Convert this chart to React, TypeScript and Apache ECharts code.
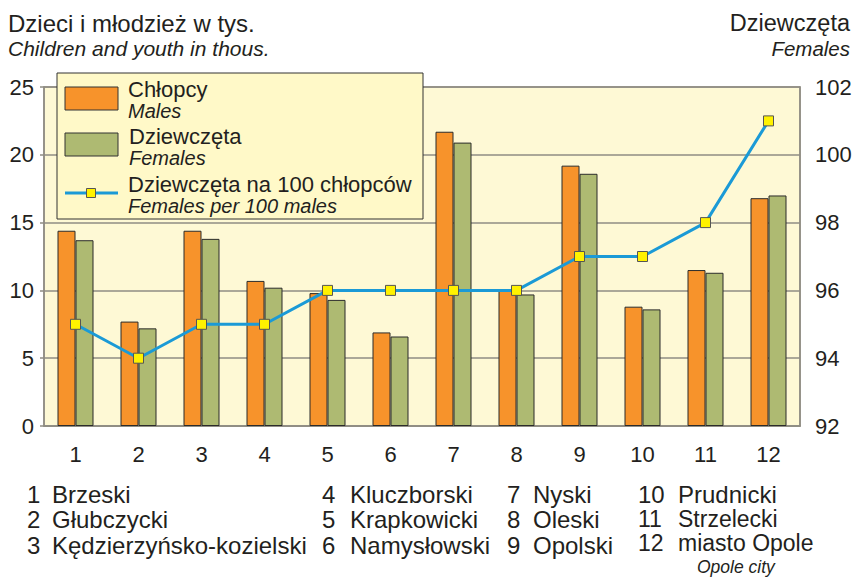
import React, { useEffect, useRef } from "react";
import * as echarts from "echarts";

const categories = ["1", "2", "3", "4", "5", "6", "7", "8", "9", "10", "11", "12"];
const males = [14.4, 7.7, 14.4, 10.7, 9.8, 6.9, 21.7, 10.0, 19.2, 8.8, 11.5, 16.8];
const females = [13.7, 7.2, 13.8, 10.2, 9.3, 6.6, 20.9, 9.7, 18.6, 8.6, 11.3, 17.0];
const femalesPer100Males = [95, 94, 95, 95, 96, 96, 96, 96, 97, 97, 98, 101];
const leftTicks = { min: 0, max: 25, interval: 5 };
const rightTicks = { min: 92, max: 102, interval: 2 };

const districtNumbers = [
  ["1", "2", "3"],
  ["4", "5", "6"],
  ["7", "8", "9"],
  ["10", "11", "12"],
];
const districtNames = [
  ["Brzeski", "Głubczycki", "Kędzierzyńsko-kozielski"],
  ["Kluczborski", "Krapkowicki", "Namysłowski"],
  ["Nyski", "Oleski", "Opolski"],
  ["Prudnicki", "Strzelecki", "miasto Opole"],
];

const FONT = "Liberation Sans, Arial, Helvetica, sans-serif";
const TXT = "#231f20";
const ORANGE = "#f7932b";
const GREEN = "#aeba72";
const BLUE = "#1b9ad6";
const YELLOW = "#fff200";

function txt(x: number, y: number, text: string, size: number, opts: any = {}) {
  return {
    type: "text",
    x,
    y,
    z: 100,
    style: {
      text,
      fontFamily: FONT,
      fontSize: size,
      fontStyle: opts.italic ? "italic" : "normal",
      fill: TXT,
      align: opts.align || "left",
      verticalAlign: "middle",
    },
  };
}

export default function App() {
  const ref = useRef<HTMLDivElement>(null);
  useEffect(() => {
    if (!ref.current) return;
    const chart = echarts.init(ref.current, undefined, { renderer: "svg" });

    const graphics: any[] = [
      txt(8, 23, "Dzieci i młodzież w tys.", 24),
      txt(8, 48, "Children and youth in thous.", 21, { italic: true }),
      txt(850, 23, "Dziewczęta", 23.5, { align: "right" }),
      txt(850, 48, "Females", 20.5, { italic: true, align: "right" }),
      // legend box
      {
        type: "rect",
        z: 90,
        shape: { x: 57, y: 73, width: 366, height: 146 },
        style: { fill: "#fff9c8", stroke: "#333", lineWidth: 1 },
      },
      {
        type: "rect",
        z: 95,
        shape: { x: 65, y: 87, width: 53, height: 23 },
        style: { fill: ORANGE, stroke: "#333", lineWidth: 1 },
      },
      {
        type: "rect",
        z: 95,
        shape: { x: 65, y: 133, width: 53, height: 23 },
        style: { fill: GREEN, stroke: "#333", lineWidth: 1 },
      },
      {
        type: "line",
        z: 95,
        shape: { x1: 65, y1: 193, x2: 118, y2: 193 },
        style: { stroke: BLUE, lineWidth: 3 },
      },
      {
        type: "rect",
        z: 96,
        shape: { x: 86.5, y: 188.5, width: 9, height: 9 },
        style: { fill: YELLOW, stroke: "#555", lineWidth: 1 },
      },
      txt(128, 89, "Chłopcy", 22),
      txt(128, 110.5, "Males", 20, { italic: true }),
      txt(129, 136, "Dziewczęta", 22),
      txt(129, 158, "Females", 20, { italic: true }),
      txt(128, 184, "Dziewczęta na 100 chłopców", 22),
      txt(128, 205.5, "Females per 100 males", 20, { italic: true }),
    ];

    const colX = [[27, 52], [322, 350], [507, 533], [638, 678]];
    const rowY = [[494, 519, 545], [494, 519, 545], [494, 519, 545], [494, 519, 542.5]];
    for (let c = 0; c < 4; c++) {
      for (let r = 0; r < 3; r++) {
        const size = c === 3 && r > 0 ? 23 : 24;
        graphics.push(txt(colX[c][0], rowY[c][r], districtNumbers[c][r], size));
        graphics.push(txt(colX[c][1], rowY[c][r], districtNames[c][r], size));
      }
    }
    graphics.push(txt(697, 567, "Opole city", 17.5, { italic: true }));

    chart.setOption({
      animation: false,
      backgroundColor: "#ffffff",
      grid: {
        left: 44,
        right: 58,
        top: 87,
        bottom: 152,
        show: true,
        backgroundColor: "#fef9d5",
        borderColor: "#8f8d83",
        borderWidth: 1.5,
      },
      xAxis: {
        type: "category",
        data: categories,
        axisLine: { show: true, lineStyle: { color: "#8f8d83", width: 1.5 } },
        axisTick: { show: false },
        axisLabel: { color: TXT, fontFamily: FONT, fontSize: 22, margin: 17 },
      },
      yAxis: [
        {
          type: "value",
          min: leftTicks.min,
          max: leftTicks.max,
          interval: leftTicks.interval,
          axisLine: { show: true, lineStyle: { color: "#8f8d83", width: 1.5 } },
          axisTick: { show: true, length: 4, lineStyle: { color: "#8f8d83", width: 1.5 } },
          axisLabel: { color: TXT, fontFamily: FONT, fontSize: 22, margin: 10 },
          splitLine: { show: true, lineStyle: { color: "#8f8d83", width: 1.5 } },
        },
        {
          type: "value",
          min: rightTicks.min,
          max: rightTicks.max,
          interval: rightTicks.interval,
          position: "right",
          axisLine: { show: true, lineStyle: { color: "#8f8d83", width: 1.5 } },
          axisTick: { show: false },
          axisLabel: { color: TXT, fontFamily: FONT, fontSize: 22, margin: 15 },
          splitLine: { show: false },
        },
      ],
      series: [
        {
          name: "Chłopcy",
          type: "bar",
          data: males,
          barWidth: 18,
          barGap: "0%",
          itemStyle: { color: ORANGE, borderColor: "#2b2b2b", borderWidth: 1 },
        },
        {
          name: "Dziewczęta",
          type: "bar",
          data: females,
          barWidth: 18,
          itemStyle: { color: GREEN, borderColor: "#2b2b2b", borderWidth: 1 },
        },
        {
          name: "Dziewczęta na 100 chłopców",
          type: "line",
          yAxisIndex: 1,
          data: femalesPer100Males,
          z: 5,
          symbol: "rect",
          symbolSize: 10,
          lineStyle: { color: BLUE, width: 3 },
          itemStyle: { color: YELLOW, borderColor: "#555", borderWidth: 1 },
        },
      ],
      graphic: graphics,
    });
    return () => chart.dispose();
  }, []);
  return (
    <div
      ref={ref}
      style={{ position: "fixed", left: 0, top: 0, width: 858, height: 578 }}
    />
  );
}
